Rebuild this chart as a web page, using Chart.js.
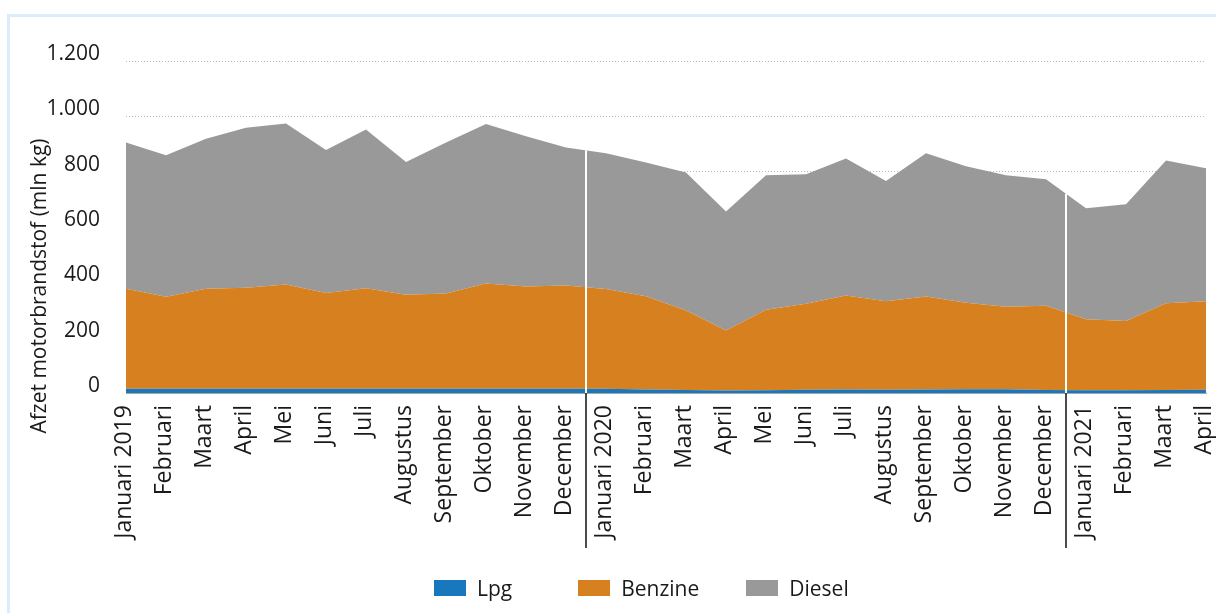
<!DOCTYPE html>
<html>
<head>
<meta charset="utf-8">
<script src="https://cdn.jsdelivr.net/npm/chart.js@4"></script>
<style>
  body { margin: 0; background: #fff; font-family: "Open Sans", sans-serif; }
  .frame { position: absolute; left: 7px; top: 14px; width: 1300px; height: 700px; border: 3px solid #dcedf9; }
  .wrap { position: absolute; left: 0; top: 0; width: 1216px; height: 613px; }
  .legend { position: absolute; left: 434px; top: 574px; display: flex; align-items: center; font-size: 21px; color: #1a1a1a; }
  .legend span.item { display: flex; align-items: center; gap: 11px; }
  .legend span.item:nth-child(1) { margin-right: 66px; }
  .legend span.item:nth-child(2) { margin-right: 47px; }
  .legend i { display: inline-block; width: 32px; height: 16px; }
</style>
</head>
<body>
<div class="frame"></div>
<div class="wrap"><canvas id="fuel"></canvas></div>
<div class="legend" id="legend"></div>
<script>
const months = [
  "Januari 2019", "Februari", "Maart", "April", "Mei", "Juni", "Juli", "Augustus",
  "September", "Oktober", "November", "December",
  "Januari 2020", "Februari", "Maart", "April", "Mei", "Juni", "Juli", "Augustus",
  "September", "Oktober", "November", "December",
  "Januari 2021", "Februari", "Maart", "April"
];
const lpg = [15, 15, 15, 15, 15, 15, 15, 15, 15, 15, 15, 15,
  15, 13, 11, 9, 10, 12, 13, 12, 13, 14, 14, 11,
  10, 10, 11, 12];
const benzine = [362, 333, 362, 365, 377, 346, 364, 340, 345, 381, 370, 374,
  361, 337, 287, 217, 291, 311, 339, 320, 336, 312, 298, 304,
  257, 250, 313, 320];
const diesel = [528, 511, 542, 579, 582, 517, 573, 480, 545, 576, 543, 498,
  491, 483, 499, 430, 486, 468, 496, 434, 518, 494, 475, 458,
  401, 422, 516, 480];
const yearStarts = [12, 24];

const colors = { Lpg: "#1977be", Benzine: "#d7801f", Diesel: "#999999" };
const FONT = "'Open Sans', sans-serif";

function fmt(v) {
  return String(v).replace(/\B(?=(\d{3})+(?!\d))/g, ".");
}

// witte/zwarte scheidingslijn tussen december en januari + y-as titel
const extras = {
  id: "extras",
  afterDatasetsDraw(chart) {
    const { ctx, scales: { x, y }, chartArea } = chart;
    yearStarts.forEach((i) => {
      const px = (x.getPixelForValue(i - 1) + x.getPixelForValue(i)) / 2;
      const tot = (lpg[i - 1] + benzine[i - 1] + diesel[i - 1] + lpg[i] + benzine[i] + diesel[i]) / 2;
      ctx.save();
      ctx.lineWidth = 2;
      ctx.strokeStyle = "#ffffff";
      ctx.beginPath();
      ctx.moveTo(px, y.getPixelForValue(tot));
      ctx.lineTo(px, chartArea.bottom);
      ctx.stroke();
      ctx.strokeStyle = "#111111";
      ctx.lineWidth = 1.5;
      ctx.beginPath();
      ctx.moveTo(px, chartArea.bottom);
      ctx.lineTo(px, 548);
      ctx.stroke();
      ctx.restore();
    });
  },
  afterDraw(chart) {
    const ctx = chart.ctx;
    ctx.save();
    ctx.translate(40, 286);
    ctx.rotate(-Math.PI / 2);
    ctx.font = "21px " + FONT;
    ctx.fillStyle = "#1a1a1a";
    ctx.textAlign = "center";
    ctx.textBaseline = "middle";
    ctx.fillText("Afzet motorbrandstof (mln kg)", 0, 0);
    ctx.restore();
  },
};

const series = [
  { label: "Lpg", data: lpg },
  { label: "Benzine", data: benzine },
  { label: "Diesel", data: diesel },
];

new Chart(document.getElementById("fuel"), {
  type: "line",
  data: {
    labels: months,
    datasets: series.map((s, i) => ({
      label: s.label,
      data: s.data,
      backgroundColor: colors[s.label],
      borderColor: colors[s.label],
      borderWidth: 0,
      pointRadius: 0,
      fill: i === 0 ? "origin" : "-1",
      tension: 0,
    })),
  },
  options: {
    responsive: true,
    maintainAspectRatio: false,
    animation: false,
    layout: { padding: { top: 61, left: 0, right: 10, bottom: 20 } },
    plugins: {
      legend: { display: false },
      tooltip: { enabled: false },
    },
    scales: {
      x: {
        z: 1,
        offset: false,
        grid: { display: false, drawTicks: false },
        border: { display: true, color: "#a6a6a6", width: 1 },
        ticks: {
          autoSkip: false,
          maxRotation: 90,
          minRotation: 90,
          padding: 12,
          labelOffset: -2,
          color: "#1a1a1a",
          font: { family: FONT, size: 23 },
        },
        afterFit(scale) {
          scale.height = 200;
          scale.paddingLeft = 0;
          scale.paddingRight = 0;
        },
      },
      y: {
        stacked: true,
        min: 0,
        max: 1200,
        grid: {
          color: "#b8b8b8",
          drawTicks: false,
        },
        border: { display: false, dash: [1, 2] },
        ticks: {
          stepSize: 200,
          padding: 26,
          labelOffset: -7,
          color: "#1a1a1a",
          font: { family: FONT, size: 21 },
          callback: (v) => fmt(v),
        },
        afterFit(scale) {
          scale.width = 126;
          scale.paddingTop = 0;
          scale.paddingBottom = 0;
        },
      },
    },
  },
  plugins: [extras],
});

const legend = document.getElementById("legend");
series.forEach((s) => {
  const item = document.createElement("span");
  item.className = "item";
  item.innerHTML = `<i style="background:${colors[s.label]}"></i>${s.label}`;
  legend.appendChild(item);
});
</script>
</body>
</html>
